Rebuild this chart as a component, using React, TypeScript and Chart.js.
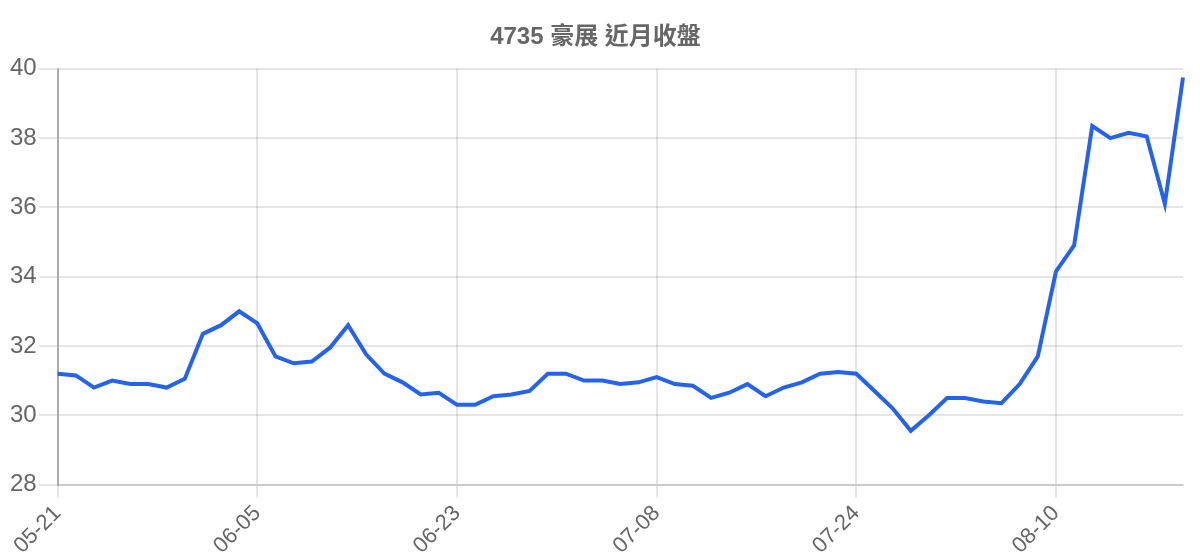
import { useEffect, useRef } from 'react';
import Chart from 'chart.js/auto';

const title = '4735 豪展 近月收盤';

const dates = [
  '05-21', '05-22', '05-23', '05-26', '05-27', '05-28', '05-29', '05-30', '06-02', '06-03', '06-04',
  '06-05', '06-06', '06-09', '06-10', '06-11', '06-12', '06-13', '06-16', '06-17', '06-18', '06-19',
  '06-23', '06-24', '06-25', '06-26', '06-27', '06-30', '07-01', '07-02', '07-03', '07-04', '07-07',
  '07-08', '07-09', '07-10', '07-11', '07-14', '07-15', '07-16', '07-17', '07-18', '07-22', '07-23',
  '07-24', '07-25', '07-28', '07-29', '07-30', '07-31', '08-01', '08-04', '08-05', '08-06', '08-07',
  '08-10', '08-11', '08-12', '08-13', '08-14', '08-15', '08-18', '08-19',
];

const closes = [
  31.2, 31.15, 30.8, 31.0, 30.9, 30.9, 30.8, 31.05, 32.35, 32.6, 33.0,
  32.65, 31.7, 31.5, 31.55, 31.95, 32.6, 31.75, 31.2, 30.95, 30.6, 30.65,
  30.3, 30.3, 30.55, 30.6, 30.7, 31.2, 31.2, 31.0, 31.0, 30.9, 30.95,
  31.1, 30.9, 30.85, 30.5, 30.65, 30.9, 30.55, 30.8, 30.95, 31.2, 31.25,
  31.2, 30.7, 30.2, 29.55, 30.0, 30.5, 30.5, 30.4, 30.35, 30.9, 31.7,
  34.15, 34.9, 38.35, 38.0, 38.15, 38.05, 36.1, 39.75,
];

const yMin = 28;
const yMax = 40;
const yStep = 2;

const fontFamily = "'Liberation Sans', Arial, 'Noto Sans CJK TC', sans-serif";

export default function App() {
  const canvasRef = useRef<HTMLCanvasElement>(null);
  const chartRef = useRef<Chart | null>(null);

  useEffect(() => {
    if (!canvasRef.current) return;
    if (chartRef.current) chartRef.current.destroy();

    chartRef.current = new Chart(canvasRef.current, {
      type: 'line',
      data: {
        labels: dates,
        datasets: [
          {
            label: '收盤',
            data: closes,
            borderColor: '#2563eb',
            backgroundColor: '#2563eb',
            borderWidth: 4,
            pointRadius: 0,
            tension: 0,
            fill: false,
          },
        ],
      },
      options: {
        responsive: true,
        maintainAspectRatio: false,
        animation: false,
        layout: { padding: { right: 9 } },
        plugins: {
          legend: { display: false },
          tooltip: { enabled: false },
          title: {
            display: true,
            text: title,
            color: '#666',
            font: { family: fontFamily, size: 24, weight: 'bold' },
            padding: { top: 15, bottom: 17 },
          },
        },
        scales: {
          x: {
            grid: { color: 'rgba(0,0,0,0.1)', lineWidth: 2, tickLength: 13 },
            border: { color: 'rgba(0,0,0,0.12)', width: 2 },
            ticks: {
              color: '#666',
              font: { family: fontFamily, size: 22 },
              maxRotation: 45,
              minRotation: 45,
              autoSkip: true,
              maxTicksLimit: 6,
              padding: 3,
            },
          },
          y: {
            min: yMin,
            max: yMax,
            grid: { color: 'rgba(0,0,0,0.1)', lineWidth: 2, tickLength: 19 },
            border: { color: 'rgba(0,0,0,0.25)', width: 2 },
            ticks: {
              stepSize: yStep,
              color: '#666',
              font: { family: fontFamily, size: 24 },
              padding: 2,
            },
          },
        },
      },
    });

    return () => {
      if (chartRef.current) {
        chartRef.current.destroy();
        chartRef.current = null;
      }
    };
  }, []);

  return (
    <div style={{ width: '100%', height: 554 }}>
      <canvas ref={canvasRef} />
    </div>
  );
}
